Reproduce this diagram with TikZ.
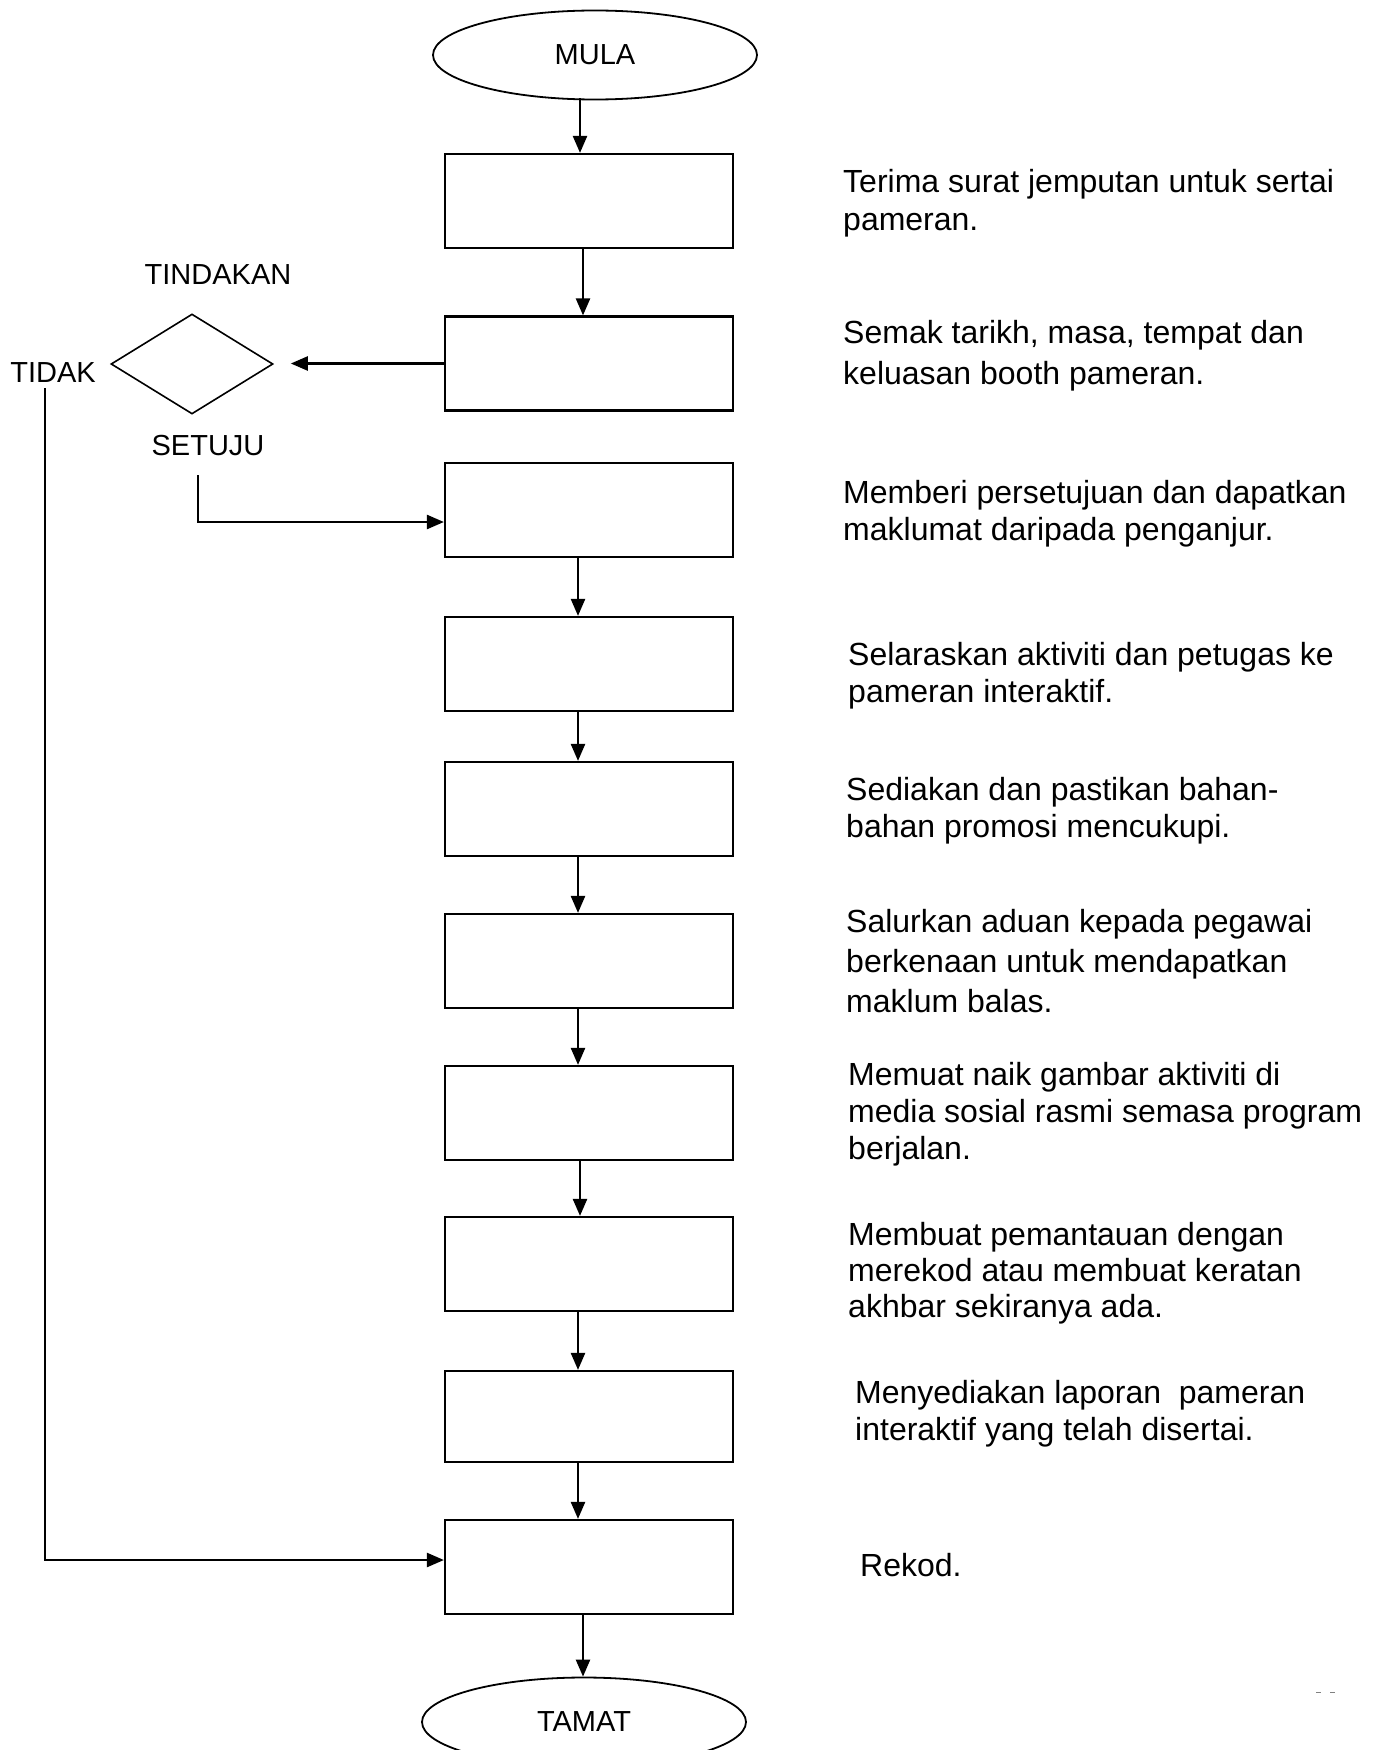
\documentclass[tikz,border=0pt]{standalone}
\usepackage{fontspec}
\setmainfont{Liberation Sans}
\usetikzlibrary{shapes.geometric,arrows.meta,calc}
% invisible strut that fixes the height of the first line of a text block
\newcommand{\lnstrut}{\rule{0pt}{25pt}}

\begin{document}
\begin{tikzpicture}[x=1pt,y=-1pt,
  stepbox/.style={draw, line width=2.2pt, minimum width=288pt, minimum height=94pt, inner sep=0pt},
  terminal/.style={draw, ellipse, line width=1.8pt, minimum width=324pt, minimum height=89pt, inner sep=0pt,
    font=\fontsize{29}{34}\selectfont},
  decision/.style={draw, diamond, aspect=1.62, line width=1.6pt, minimum width=162pt, minimum height=100pt, inner sep=0pt},
  lbl/.style={font=\fontsize{29}{34}\selectfont, inner sep=0pt},
  note/.style={font=\fontsize{32}{#1}\selectfont, align=left, anchor=north west, inner sep=0pt},
  note/.default=38,
  arr/.style={line width=2.4pt, -{Triangle[length=17pt,width=14pt]}}
]
\useasboundingbox (0,0) rectangle (1373,1750);
\clip (0,0) rectangle (1373,1750);
\fill[white] (0,0) rectangle (1373,1750);

% start and end
\node[terminal] (mula) at (595,55) {MULA};
\node[terminal] (tamat) at (584,1722) {TAMAT};

% process steps
\node[stepbox] (b1)  at (589,201)    {};
\node[stepbox] (b2)  at (589,363.5)  {};
\node[stepbox] (b3)  at (589,510)    {};
\node[stepbox] (b4)  at (589,664)    {};
\node[stepbox] (b5)  at (589,809)    {};
\node[stepbox] (b6)  at (589,961)    {};
\node[stepbox] (b7)  at (589,1113)   {};
\node[stepbox] (b8)  at (589,1264)   {};
\node[stepbox, minimum height=91pt] (b9) at (589,1416.5) {};
\node[stepbox] (b10) at (589,1567)   {};

% decision
\node[decision] (dia) at (192,364) {};
\node[lbl] (tindakan) at (218,275) {TINDAKAN};
\node[lbl] (tidak)    at (53,373)  {TIDAK};
\node[lbl] (setuju)   at (208,446) {SETUJU};
\coordinate (diaIn) at ([xshift=17pt]dia.east);

% main flow
\draw[arr] ([xshift=-15pt,yshift=2pt]mula.south) -- ([xshift=-9pt]b1.north);
\draw[arr] ([xshift=-6pt]b1.south) -- ([xshift=-6pt]b2.north);
\draw[arr] (b2.west) -- (b2.west -| diaIn);
\draw[arr] ([xshift=-11pt]b3.south) -- ([xshift=-11pt]b4.north);
\draw[arr] ([xshift=-11pt]b4.south) -- ([xshift=-11pt]b5.north);
\draw[arr] ([xshift=-11pt]b5.south) -- ([xshift=-11pt]b6.north);
\draw[arr] ([xshift=-11pt]b6.south) -- ([xshift=-11pt]b7.north);
\draw[arr] ([xshift=-9pt]b7.south) -- ([xshift=-9pt]b8.north);
\draw[arr] ([xshift=-11pt]b8.south) -- ([xshift=-11pt]b9.north);
\draw[arr] ([xshift=-11pt]b9.south) -- ([xshift=-11pt]b10.north);
\draw[arr] ([xshift=-6pt]b10.south) -- ([xshift=-1pt]tamat.north);

% SETUJU branch
\coordinate (stTop)  at (198,475);
\coordinate (stBend) at (198,522);
\draw[arr] (stTop) -- (stBend) -- (b3.west |- stBend);

% TIDAK branch
\coordinate (tdTop)  at (45,388);
\coordinate (tdBend) at (45,1560);
\draw[arr] (tdTop) -- (tdBend) -- (b10.west |- tdBend);

% step descriptions
\node[note] (t1) at (843,167) {\lnstrut Terima surat jemputan untuk sertai\\pameran.};
\node[note=41] (t2) at (843,318) {\lnstrut Semak tarikh, masa, tempat dan\\keluasan booth pameran.};
\node[note=37] (t3) at (843,478) {\lnstrut Memberi persetujuan dan dapatkan\\maklumat daripada penganjur.};
\node[note=37] (t4) at (848,640) {\lnstrut Selaraskan aktiviti dan petugas ke\\pameran interaktif.};
\node[note=37] (t5) at (846,775) {\lnstrut Sediakan dan pastikan bahan-\\bahan promosi mencukupi.};
\node[note=40] (t6) at (846,907) {\lnstrut Salurkan aduan kepada pegawai\\berkenaan untuk mendapatkan\\maklum balas.};
\node[note=37] (t7) at (848,1060) {\lnstrut Memuat naik gambar aktiviti di\\media sosial rasmi semasa program\\berjalan.};
\node[note=36] (t8) at (848,1220) {\lnstrut Membuat pemantauan dengan\\merekod atau membuat keratan\\akhbar sekiranya ada.};
\node[note=37] (t9) at (855,1378) {\lnstrut Menyediakan laporan\ \ pameran\\interaktif yang telah disertai.};
\node[note] (t10) at (860,1551) {\lnstrut Rekod.};

% small marks near the lower right corner
\draw[gray, line width=1pt] (1316,1692) -- (1321,1692);
\draw[gray, line width=1pt] (1330,1692) -- (1335,1692);
\end{tikzpicture}
\end{document}
